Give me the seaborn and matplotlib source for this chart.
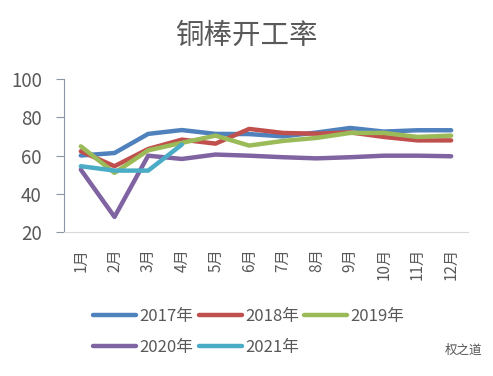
import pandas as pd
import seaborn as sns
import matplotlib.pyplot as plt

months = ['1月', '2月', '3月', '4月', '5月', '6月', '7月', '8月', '9月', '10月', '11月', '12月']
y2017 = [60, 61.3, 71.3, 73.3, 71.3, 71.2, 70, 72, 74.4, 72.5, 73.2, 73.2]
y2018 = [62.2, 54.4, 63.4, 68.3, 66.2, 73.9, 71.8, 71.4, 72.1, 69.7, 67.9, 67.9]
y2019 = [64.8, 50.9, 62.7, 66.6, 70.4, 65.2, 67.6, 69.2, 71.8, 71.8, 69.7, 70.4]
y2020 = [52.6, 27.9, 59.9, 58.2, 60.5, 59.9, 59.1, 58.5, 59.1, 59.9, 59.9, 59.6]
y2021 = [54.4, 52.1, 52.1, 65.7]

series = {'2017年': y2017, '2018年': y2018, '2019年': y2019, '2020年': y2020, '2021年': y2021}
colors = ['#4F81BD', '#C0504D', '#9BBB59', '#8064A2', '#4BACC6']

rows = []
for name, vals in series.items():
    for i, v in enumerate(vals):
        rows.append({'month': i, 'value': v, 'year': name})
df = pd.DataFrame(rows)

sns.set_style('white')
plt.rcParams['font.family'] = ['Noto Sans CJK SC', 'DejaVu Sans']

fig = plt.figure(figsize=(4.93, 3.76), dpi=100)
ax = fig.add_axes([64 / 493, 1 - 232 / 376, 404 / 493, 153 / 376])

sns.lineplot(data=df, x='month', y='value', hue='year', palette=colors,
             linewidth=3.2, sort=False, ax=ax, legend=True)

ax.set_xlim(-0.5, 11.5)
ax.set_ylim(20, 100)
ax.set_yticks([20, 40, 60, 80, 100])
ax.set_xticks(range(len(months)))
ax.set_xticklabels(months, rotation=90)
ax.set_xlabel('')
ax.set_ylabel('')
for s in ['top', 'right']:
    ax.spines[s].set_visible(False)
ax.spines['left'].set_color('#8A96A3')
ax.spines['bottom'].set_color('#D9D9D9')
ax.tick_params(axis='y', which='both', left=True, length=6, color='#8A96A3',
               labelsize=13.5, labelcolor='#595959', pad=10)
ax.tick_params(axis='x', bottom=False, labelsize=11, labelcolor='#595959', pad=8)

handles, labels = ax.get_legend_handles_labels()
ax.get_legend().remove()
order = [0, 3, 1, 4, 2]
leg = fig.legend([handles[i] for i in order], [labels[i] for i in order],
                 ncol=3, loc='upper left', bbox_to_anchor=(78 / 493, 1 - 293 / 376),
                 frameon=False, fontsize=12, handlelength=2.6, handletextpad=0.2,
                 columnspacing=0.3, labelspacing=0.85)
for t in leg.get_texts():
    t.set_color('#595959')
for h in leg.get_lines():
    h.set_linewidth(3.2)

fig.suptitle('铜棒开工率', x=0.5, y=1 - 36 / 376, va='center', fontsize=20.5, color='#595959')
fig.text(482 / 493, 1 - 350 / 376, '权之道', ha='right', va='center', fontsize=9, color='#555555')

fig.savefig('out.png', dpi=100)
